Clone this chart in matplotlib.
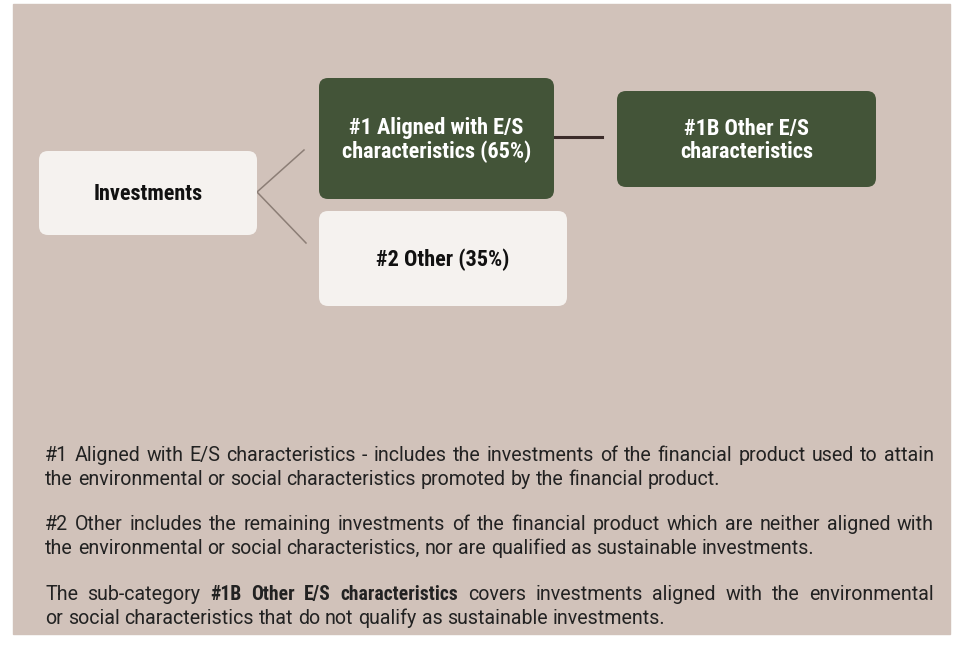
import matplotlib
matplotlib.use("Agg")
import matplotlib.pyplot as plt
from matplotlib import font_manager
from matplotlib.patches import FancyBboxPatch

installed = {f.name for f in font_manager.fontManager.ttflist}
box_font = "Roboto Condensed" if "Roboto Condensed" in installed else "Liberation Sans"
body_font = "Roboto" if "Roboto" in installed else "Liberation Sans"
plt.rcParams["font.family"] = [body_font, "DejaVu Sans"]

# diagram content
node_labels = ["Investments", "#1 Aligned with E/S\ncharacteristics (65%)", "#1B Other E/S\ncharacteristics", "#2 Other (35%)"]
node_dark = [False, True, True, False]
# x0, y0, x1, y1 in pixels (y from top)
node_boxes = [(39, 151, 257, 235), (319, 78, 554, 199), (617, 91, 876, 187), (319, 211, 567, 306)]

paragraphs = [
    ["#1 Aligned with E/S characteristics - includes the investments of the financial product used to attain",
     "the environmental or social characteristics promoted by the financial product."],
    ["#2 Other includes the remaining investments of the financial product which are neither aligned with",
     "the environmental or social characteristics, nor are qualified as sustainable investments."],
    ["The sub-category **#1B Other E/S characteristics** covers investments aligned with the environmental",
     "or social characteristics that do not qualify as sustainable investments."],
]
para_base = [461, 530, 600]

bg = "#d1c2ba"
green = "#435438"
light = "#f5f2ef"
W, H = 955, 657

fig = plt.figure(figsize=(W / 100, H / 100), dpi=100)
ax = fig.add_axes([0, 0, 1, 1])
ax.set_xlim(0, W)
ax.set_ylim(H, 0)
ax.axis("off")

ax.add_patch(plt.Rectangle((13, 4), 937, 630, color=bg, zorder=0))

# connectors
ax.plot([257, 304], [192, 150], color="#8c7e76", lw=1.1, zorder=1)
ax.plot([257, 306], [192, 243], color="#8c7e76", lw=1.1, zorder=1)
ax.plot([554, 602], [137, 137], color="#3b2b29", lw=2.2, zorder=1)

for label, dark, (x0, y0, x1, y1) in zip(node_labels, node_dark, node_boxes):
    box = FancyBboxPatch((x0, y0), x1 - x0, y1 - y0,
                         boxstyle="round,pad=0,rounding_size=9",
                         fc=green if dark else light, ec="none", zorder=2)
    ax.add_patch(box)
    ax.text((x0 + x1) / 2, (y0 + y1) / 2 + 1.5, label, ha="center", va="center",
            family=[box_font, "DejaVu Sans"], fontsize=16, fontweight="bold",
            linespacing=1.08, color="white" if dark else "#111111", zorder=3)

# justified notes underneath
renderer = fig.canvas.get_renderer()
left, right = 45, 934
line_gap = 24


def word_style(bold, size):
    if bold:
        return dict(fontsize=size, fontweight="bold", family=[box_font, "DejaVu Sans"])
    return dict(fontsize=size, fontweight="normal", family=[body_font, "DejaVu Sans"])


def word_width(word, bold, size):
    t = ax.text(0, 0, word, **word_style(bold, size))
    w = t.get_window_extent(renderer).width
    t.remove()
    return w


# size the body so the short line matches the reference width (~672 px)
body_size = 12.0 * 672 / word_width(paragraphs[0][1], False, 12.0)
space_w = word_width("a a", False, body_size) - 2 * word_width("a", False, body_size)

for lines, y0 in zip(paragraphs, para_base):
    for i, line in enumerate(lines):
        words = []
        bold = False
        for w in line.split(" "):
            b = bold or w.startswith("**")
            if w.startswith("**"):
                bold = True
            if w.endswith("**"):
                bold = False
            words.append((w.replace("**", ""), b))
        widths = [word_width(w, b, body_size) for w, b in words]
        if i == len(lines) - 1:
            gap = space_w
        else:
            gap = (right - left - sum(widths)) / (len(words) - 1)
        x = left
        y = y0 + i * line_gap
        for (w, b), ww in zip(words, widths):
            ax.text(x, y, w, color="#222222", va="baseline", ha="left", **word_style(b, body_size))
            x += ww + gap

fig.savefig("out.png", dpi=100)
